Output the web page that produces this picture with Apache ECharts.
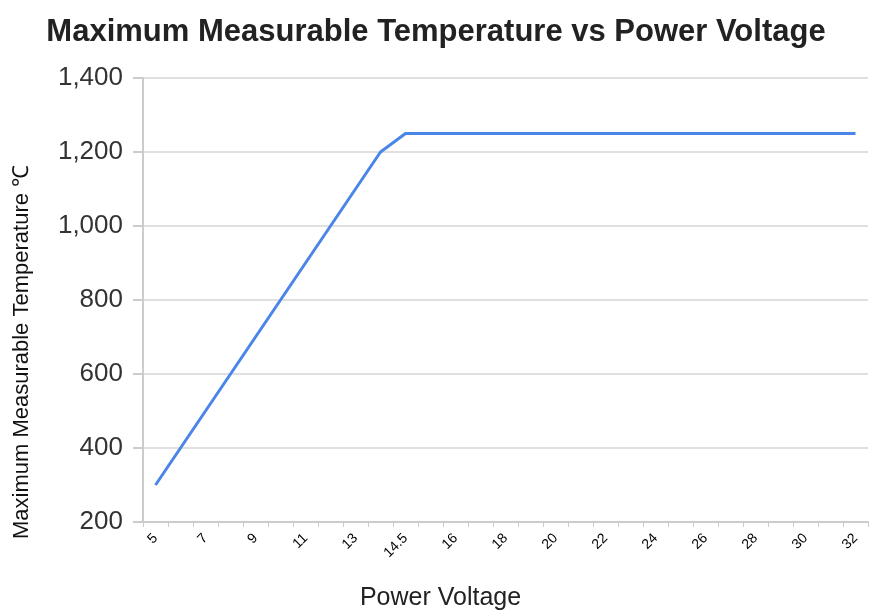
<!DOCTYPE html>
<html>
<head>
<meta charset="utf-8">
<script src="https://cdn.jsdelivr.net/npm/echarts@6/dist/echarts.min.js"></script>
<style>html,body{margin:0;padding:0;background:#fff;}#c{width:872px;height:611px;}</style>
</head>
<body>
<div id="c"></div>
<script>
var categories = ['5','6','7','8','9','10','11','12','13','14','14.5','15','16','17','18','19','20','21','22','23','24','25','26','27','28','29','30','31','32'];
var temps = [300,400,500,600,700,800,900,1000,1100,1200,1250,1250,1250,1250,1250,1250,1250,1250,1250,1250,1250,1250,1250,1250,1250,1250,1250,1250,1250];
var yTicks = [200,400,600,800,1000,1200,1400];
var titleText = 'Maximum Measurable Temperature vs Power Voltage';
var xName = 'Power Voltage';
var yName = 'Maximum Measurable Temperature \u2103';

var chart = echarts.init(document.getElementById('c'), null, {renderer:'canvas'});
chart.setOption({
  animation:false,
  backgroundColor:'#fff',
  title:{text:titleText,left:'center',top:12,textStyle:{fontFamily:'Liberation Sans',fontSize:31,fontWeight:'bold',color:'#222'}},
  grid:{left:143,right:4,top:78,bottom:89,containLabel:false,outerBoundsMode:'none'},
  xAxis:{
    type:'category',data:categories,boundaryGap:true,
    name:xName,nameLocation:'middle',nameGap:64,
    nameTextStyle:{fontFamily:'Liberation Sans',fontSize:25,color:'#222',padding:[0,130,0,0]},
    axisLine:{lineStyle:{color:'#cccccc',width:2}},
    axisTick:{show:true,interval:0,length:5,lineStyle:{color:'#cccccc',width:1}},
    axisLabel:{interval:1,rotate:45,fontFamily:'Liberation Sans',fontSize:14,color:'#000',margin:14},
    splitLine:{show:false}
  },
  yAxis:{
    type:'value',min:yTicks[0],max:yTicks[yTicks.length-1],interval:200,
    name:yName,nameLocation:'middle',nameGap:110,
    nameTextStyle:{fontFamily:'Liberation Sans',fontSize:22,color:'#111',padding:[0,104,0,0]},
    axisLine:{show:true,lineStyle:{color:'#cccccc',width:2}},
    axisTick:{show:true,length:10,lineStyle:{color:'#cccccc',width:2}},
    axisLabel:{fontFamily:'Liberation Sans',fontSize:26,color:'#333',margin:20,
      formatter:function(v){return v.toLocaleString('en-US');}},
    splitLine:{show:true,lineStyle:{color:'#e0e0e0',width:2}}
  },
  series:[{type:'line',data:temps,symbol:'none',lineStyle:{color:'#4a86e8',width:3},itemStyle:{color:'#4a86e8'}}]
});
</script>
</body>
</html>
